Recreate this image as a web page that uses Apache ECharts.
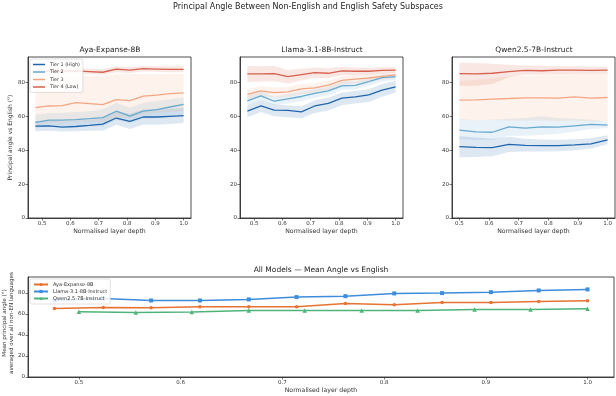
<!DOCTYPE html>
<html>
<head>
<meta charset="utf-8">
<script src="https://cdn.jsdelivr.net/npm/echarts@6/dist/echarts.min.js"></script>
<style>
  html, body { margin: 0; padding: 0; background: #fff; }
  #chart { width: 616px; height: 396px; }
</style>
</head>
<body>
<div id="chart"></div>
<script>
// x positions (normalised layer depth)
const xsLong = [0.476, 0.524, 0.571, 0.619, 0.667, 0.714, 0.762, 0.810, 0.857, 0.905, 0.952, 1.0];
const xsQwen = [0.5, 0.556, 0.611, 0.667, 0.722, 0.778, 0.833, 0.889, 0.944, 1.0];

const tierNames = ['Tier 1 (High)', 'Tier 2', 'Tier 3', 'Tier 4 (Low)'];
const modelNames = ['Aya-Expanse-8B', 'Llama-3.1-8B-Instruct', 'Qwen2.5-7B-Instruct'];
const xTicks = [0.5, 0.6, 0.7, 0.8, 0.9, 1.0];
const yTicks = [0, 20, 40, 60, 80];

// Aya-Expanse-8B
const ayaT1 = [54.2, 54.4, 53.6, 54.0, 54.6, 55.4, 59.0, 57.0, 59.6, 59.6, 60.0, 60.4];
const ayaT1Lo = [51.2, 51.5, 51.0, 51.2, 51.5, 51.5, 55.0, 52.5, 55.0, 55.0, 55.5, 56.0];
const ayaT1Hi = [57.0, 57.5, 57.0, 57.5, 58.0, 59.0, 63.0, 61.5, 64.0, 64.0, 64.5, 65.0];
const ayaT2 = [56.4, 57.8, 57.8, 58.0, 58.6, 59.2, 63.0, 60.1, 63.1, 64.0, 65.5, 67.0];
const ayaT2Lo = [53.0, 54.0, 54.0, 54.0, 54.5, 54.0, 58.0, 56.0, 58.5, 59.0, 60.0, 61.0];
const ayaT2Hi = [61.0, 62.0, 62.0, 62.5, 63.0, 64.0, 68.0, 65.0, 68.0, 69.0, 70.0, 71.0];
const ayaT3 = [65.1, 66.1, 66.3, 68.1, 67.5, 66.9, 69.9, 69.3, 71.9, 72.5, 73.4, 73.8];
const ayaT3Lo = [55.0, 56.0, 56.0, 57.0, 57.0, 56.5, 59.0, 59.0, 61.0, 62.0, 62.5, 63.0];
const ayaT3Hi = [83.0, 83.5, 83.5, 84.0, 84.0, 84.0, 85.0, 85.0, 85.0, 85.0, 85.0, 85.0];
const ayaT4 = [85.8, 86.8, 86.6, 86.8, 86.4, 86.0, 87.9, 87.3, 88.1, 87.9, 87.7, 87.7];
const ayaT4Lo = [84.5, 85.0, 85.0, 85.0, 84.8, 84.5, 86.0, 85.5, 86.5, 86.3, 86.0, 86.0];
const ayaT4Hi = [88.0, 88.5, 88.5, 88.5, 88.0, 87.8, 89.5, 89.0, 89.7, 89.5, 89.5, 89.5];

// Llama-3.1-8B-Instruct
const llamaT1 = [63.1, 66.1, 63.7, 63.5, 62.6, 66.1, 67.7, 70.7, 71.5, 72.7, 75.4, 77.4];
const llamaT1Lo = [59.5, 62.5, 60.0, 59.5, 58.8, 62.0, 63.5, 66.5, 67.5, 68.5, 71.5, 74.0];
const llamaT1Hi = [66.5, 69.5, 67.0, 66.5, 66.0, 69.5, 71.0, 74.0, 75.0, 76.0, 79.0, 81.0];
const llamaT2 = [69.1, 72.1, 68.9, 70.3, 71.7, 73.6, 75.0, 78.0, 78.2, 80.4, 82.8, 83.4];
const llamaT2Lo = [66.5, 69.5, 66.5, 67.5, 69.0, 71.0, 72.5, 75.5, 76.0, 78.0, 80.5, 81.5];
const llamaT2Hi = [72.0, 75.0, 71.5, 73.0, 74.5, 76.0, 77.5, 80.5, 80.5, 82.5, 84.5, 85.0];
const llamaT3 = [73.0, 75.0, 74.0, 74.4, 76.2, 76.8, 78.4, 81.2, 82.0, 82.6, 83.6, 84.4];
const llamaT3Lo = [70.0, 72.0, 71.0, 71.5, 73.0, 74.0, 75.5, 78.5, 79.5, 80.5, 81.5, 82.5];
const llamaT3Hi = [76.0, 78.0, 77.0, 77.5, 79.0, 79.5, 81.0, 83.5, 84.5, 84.8, 85.5, 86.0];
const llamaT4 = [85.0, 85.0, 85.2, 83.4, 84.6, 85.8, 85.4, 86.8, 86.6, 86.6, 87.1, 87.3];
const llamaT4Lo = [80.3, 80.5, 80.7, 79.4, 81.1, 82.8, 82.4, 84.3, 84.4, 84.6, 85.3, 85.5];
const llamaT4Hi = [89.7, 89.5, 89.7, 87.4, 88.1, 88.8, 88.4, 89.3, 88.8, 88.6, 88.9, 89.1];

// Qwen2.5-7B-Instruct
const qwenT1 = [42.1, 41.7, 41.5, 43.5, 42.9, 42.7, 42.7, 43.1, 43.7, 46.1];
const qwenT1Lo = [35.8, 36.0, 36.5, 39.0, 39.2, 39.3, 39.4, 40.0, 41.0, 43.5];
const qwenT1Hi = [48.2, 47.5, 46.8, 48.0, 46.8, 46.3, 46.2, 46.5, 47.0, 48.8];
const qwenT2 = [51.8, 50.8, 50.6, 53.8, 53.0, 53.8, 53.6, 54.4, 55.2, 54.8];
const qwenT2Lo = [46.5, 46.0, 46.0, 48.5, 48.5, 49.0, 49.5, 51.0, 52.5, 53.0];
const qwenT2Hi = [58.5, 57.5, 58.0, 58.5, 59.0, 60.0, 59.0, 58.5, 58.0, 57.0];
const qwenT3 = [69.5, 69.7, 70.1, 70.5, 70.9, 70.9, 70.7, 71.5, 70.7, 71.1];
const qwenT3Lo = [58.2, 57.5, 57.8, 57.5, 57.5, 57.5, 57.3, 57.5, 57.0, 57.3];
const qwenT3Hi = [80.8, 81.5, 82.5, 83.5, 84.0, 84.3, 84.5, 85.0, 84.8, 85.0];
const qwenT4 = [85.2, 85.0, 85.4, 86.4, 87.1, 86.9, 87.3, 87.3, 87.1, 87.3];
const qwenT4Lo = [78.0, 78.0, 79.0, 83.0, 84.5, 84.5, 84.8, 85.0, 84.8, 85.0];
const qwenT4Hi = [91.6, 91.5, 91.0, 90.5, 90.0, 89.8, 89.7, 89.5, 89.4, 89.3];

// bottom panel: mean over all non-EN languages
const ayaMean = [65.1, 66.1, 65.8, 66.7, 66.7, 66.7, 69.9, 68.6, 70.8, 70.8, 71.8, 72.4];
const llamaMean = [72.5, 74.6, 72.7, 72.7, 73.7, 75.9, 76.8, 79.4, 79.7, 80.6, 82.2, 83.2];
const qwenMean = [62.0, 61.3, 61.7, 63.2, 63.2, 63.2, 63.2, 64.2, 64.2, 64.8];

const tierColors = ['#2166ac', '#67a9cf', '#f4a582', '#d6604d'];
const modelColors = ['#e67332', '#3d8ddc', '#4fb47a'];
const FONT = 'DejaVu Sans';

const zip = (xs, ys) => xs.map((x, i) => [x, ys[i]]);

// shaded band between lo and hi, drawn through the axis scales
function band(idx, xs, lo, hi, color) {
  return {
    type: 'custom',
    xAxisIndex: idx,
    yAxisIndex: idx,
    silent: true,
    z: 1,
    data: [[xs[0], lo[0]]],
    renderItem: function (params, api) {
      const pts = [];
      for (let i = 0; i < xs.length; i++) pts.push(api.coord([xs[i], hi[i]]));
      for (let i = xs.length - 1; i >= 0; i--) pts.push(api.coord([xs[i], lo[i]]));
      return { type: 'polygon', shape: { points: pts }, style: { fill: color, opacity: 0.15 } };
    }
  };
}

function tierLine(idx, xs, ys, t) {
  return {
    type: 'line', name: tierNames[t], xAxisIndex: idx, yAxisIndex: idx,
    data: zip(xs, ys), showSymbol: false, symbol: 'none', z: 3,
    lineStyle: { color: tierColors[t], width: 1.3 }, itemStyle: { color: tierColors[t] }
  };
}

const panels = [
  { xs: xsLong, mean: [ayaT1, ayaT2, ayaT3, ayaT4], lo: [ayaT1Lo, ayaT2Lo, ayaT3Lo, ayaT4Lo], hi: [ayaT1Hi, ayaT2Hi, ayaT3Hi, ayaT4Hi], min: 0.45, max: 1.026 },
  { xs: xsLong, mean: [llamaT1, llamaT2, llamaT3, llamaT4], lo: [llamaT1Lo, llamaT2Lo, llamaT3Lo, llamaT4Lo], hi: [llamaT1Hi, llamaT2Hi, llamaT3Hi, llamaT4Hi], min: 0.45, max: 1.026 },
  { xs: xsQwen, mean: [qwenT1, qwenT2, qwenT3, qwenT4], lo: [qwenT1Lo, qwenT2Lo, qwenT3Lo, qwenT4Lo], hi: [qwenT1Hi, qwenT2Hi, qwenT3Hi, qwenT4Hi], min: 0.475, max: 1.025 }
];

const gridBase = { show: true, borderColor: '#222', borderWidth: 0.8, containLabel: false, outerBoundsMode: 'none' };
const gridLefts = [28, 240, 452];
const grids = gridLefts.map(l => Object.assign({ left: l, top: 57, width: 163, height: 161 }, gridBase));
grids.push(Object.assign({ left: 28, top: 277, width: 586, height: 100 }, gridBase));

const axisLabelBase = { fontSize: 5.5, color: '#333', fontFamily: FONT, margin: 3 };
const tickBase = { show: true, inside: false, length: 2.5, lineStyle: { color: '#222', width: 0.6 } };

const xAxes = [];
const yAxes = [];
for (let g = 0; g < 4; g++) {
  const p = panels[g];
  xAxes.push({
    type: 'value', gridIndex: g,
    min: g < 3 ? p.min : 0.45, max: g < 3 ? p.max : 1.026,
    name: 'Normalised layer depth', nameLocation: 'middle', nameGap: g < 3 ? 10 : 9,
    nameTextStyle: { fontSize: 6.2, color: '#333', fontFamily: FONT },
    axisLine: { show: true, lineStyle: { color: '#222', width: 0.8 } },
    axisTick: Object.assign({ customValues: xTicks }, tickBase),
    axisLabel: Object.assign({ customValues: xTicks, formatter: v => v.toFixed(1) }, axisLabelBase),
    splitLine: { show: false }
  });
  yAxes.push({
    type: 'value', gridIndex: g, min: 0, max: 95,
    name: g === 0 ? 'Principal angle vs English (°)' : '', nameLocation: 'middle', nameGap: 15,
    nameTextStyle: { fontSize: 6, color: '#333', fontFamily: FONT },
    axisLine: { show: true, lineStyle: { color: '#222', width: 0.8 } },
    axisTick: Object.assign({ customValues: yTicks }, tickBase),
    axisLabel: Object.assign({ customValues: yTicks }, axisLabelBase),
    splitLine: { show: false }
  });
}

const series = [];
panels.forEach((p, g) => {
  for (let t = 0; t < 4; t++) series.push(band(g, p.xs, p.lo[t], p.hi[t], tierColors[t]));
  for (let t = 0; t < 4; t++) series.push(tierLine(g, p.xs, p.mean[t], t));
});

const meanSets = [[xsLong, ayaMean, 'circle', 3.5], [xsLong, llamaMean, 'rect', 4], [xsQwen, qwenMean, 'triangle', 4.5]];
meanSets.forEach((m, i) => {
  series.push({
    type: 'line', name: modelNames[i], xAxisIndex: 3, yAxisIndex: 3,
    data: zip(m[0], m[1]), symbol: m[2], symbolSize: m[3], z: 3,
    lineStyle: { color: modelColors[i], width: 1.5 },
    itemStyle: { color: modelColors[i] }
  });
});

const titleStyle = { fontSize: 7.5, color: '#222', fontWeight: 'normal', fontFamily: FONT };
const titles = [
  { text: 'Principal Angle Between Non-English and English Safety Subspaces', left: 308, top: 3, padding: 0, textAlign: 'center', textStyle: Object.assign({}, titleStyle, { fontSize: 8 }) },
  { text: 'Aya-Expanse-8B', left: 110, top: 46, padding: 0, textAlign: 'center', textStyle: titleStyle },
  { text: 'Llama-3.1-8B-Instruct', left: 322, top: 46, padding: 0, textAlign: 'center', textStyle: titleStyle },
  { text: 'Qwen2.5-7B-Instruct', left: 534, top: 46, padding: 0, textAlign: 'center', textStyle: titleStyle },
  { text: 'All Models — Mean Angle vs English', left: 321, top: 266, padding: 0, textAlign: 'center', textStyle: titleStyle }
];

const chart = echarts.init(document.getElementById('chart'), null, { renderer: 'canvas' });
chart.setOption({
  animation: false,
  backgroundColor: '#fff',
  title: titles,
  grid: grids,
  xAxis: xAxes,
  yAxis: yAxes,
  graphic: [{
    type: 'text', x: 8, y: 323, rotation: Math.PI / 2, silent: true,
    style: {
      text: 'Mean principal angle (°)\naveraged over all non-EN languages',
      fontSize: 5.6, fontFamily: FONT, fill: '#333', align: 'center', verticalAlign: 'middle', lineHeight: 7
    }
  }],
  legend: [
    {
      data: tierNames.map((n, t) => ({ name: n, icon: 'rect', itemStyle: { color: tierColors[t] } })),
      orient: 'vertical', left: 30, top: 59, itemWidth: 12, itemHeight: 1.5, itemGap: 2.5,
      padding: [3, 3, 3, 3], backgroundColor: 'rgba(255,255,255,0.85)', borderColor: '#ccc', borderWidth: 0.6, borderRadius: 2,
      textStyle: { fontSize: 4.8, color: '#333', fontFamily: FONT }, selectedMode: false
    },
    {
      data: modelNames,
      orient: 'vertical', left: 30, top: 279, itemWidth: 14, itemHeight: 4, itemGap: 2,
      padding: [3, 3, 3, 3], backgroundColor: 'rgba(255,255,255,0.85)', borderColor: '#ccc', borderWidth: 0.6, borderRadius: 2,
      textStyle: { fontSize: 5, color: '#333', fontFamily: FONT }, selectedMode: false
    }
  ],
  series: series
});
</script>
</body>
</html>
